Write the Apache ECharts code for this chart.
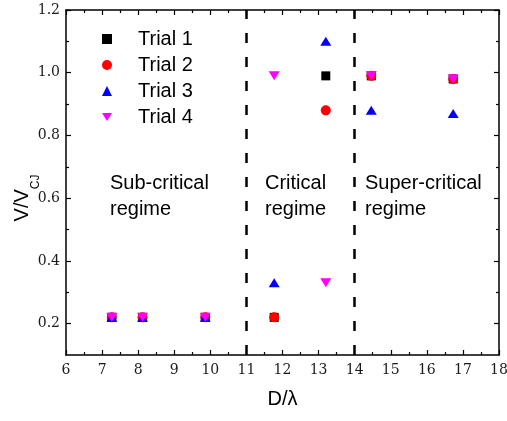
<!DOCTYPE html>
<html>
<head>
<meta charset="utf-8">
<script src="https://cdn.jsdelivr.net/npm/echarts@6/dist/echarts.min.js"></script>
<style>
html,body{margin:0;padding:0;background:#fff;}
#chart{width:507px;height:421px;}
</style>
</head>
<body>
<div id="chart"></div>
<script>
// ---- data ----
const xVals  = [7.27, 8.12, 9.86, 11.77, 13.2, 14.46, 16.73];
const trial1 = [0.22, 0.22, 0.22, 0.22, 0.99, 0.99, 0.98];
const trial2 = [0.22, 0.22, 0.22, 0.22, 0.88, 0.99, 0.98];
const trial3 = [0.22, 0.22, 0.22, 0.33, 1.10, 0.88, 0.87];
const trial4 = [0.22, 0.22, 0.22, 0.99, 0.33, 0.99, 0.98];
const seriesNames = ['Trial 1', 'Trial 2', 'Trial 3', 'Trial 4'];
const regimeBounds = [11, 14];
const yMajorTicks = [0.2, 0.4, 0.6, 0.8, 1.0, 1.2];
const yMinorTicks = [0.3, 0.5, 0.7, 0.9, 1.1];
const regimeLabels = [
  {lines: ['Sub-critical', 'regime'], x: 110},
  {lines: ['Critical', 'regime'], x: 265},
  {lines: ['Super-critical', 'regime'], x: 365}
];

const downTri = 'path://M0,0L10,0L5,8Z';
const pair = (ys) => xVals.map((x, i) => [x, ys[i]]);

const chart = echarts.init(document.getElementById('chart'), null, {renderer: 'canvas'});

const tickFont = {fontFamily: 'DejaVu Serif', fontSize: 14, color: '#1a1a1a'};
const blk = {color: '#000', width: 1.5};

function xAx(pos, labels) {
  return {
    type: 'value', position: pos, min: 6, max: 18, interval: 1,
    axisLine: {show: true, onZero: false, lineStyle: blk},
    axisTick: {show: true, inside: true, length: 5, lineStyle: {color: '#000', width: 1.2}},
    minorTick: {show: true, splitNumber: 2, length: 3, lineStyle: {color: '#000', width: 1.2}},
    splitLine: {show: false},
    axisLabel: Object.assign({show: labels, margin: 8}, tickFont),
  };
}
function yAx(pos, ticks, len, labels, line) {
  return {
    type: 'value', position: pos, min: 0.1, max: 1.2,
    axisLine: {show: line, onZero: false, lineStyle: blk},
    axisTick: {show: true, inside: true, length: len, customValues: ticks, lineStyle: {color: '#000', width: 1.2}},
    splitLine: {show: false},
    axisLabel: Object.assign({show: labels, margin: 6, customValues: ticks,
      formatter: v => Number(v).toFixed(1)}, tickFont),
  };
}

const xBottom = xAx('bottom', true);
xBottom.name = 'D/λ';
xBottom.nameLocation = 'middle';
xBottom.nameGap = 34;
xBottom.nameTextStyle = {fontFamily: 'Liberation Sans', fontSize: 20, color: '#000'};

const yLeft = yAx('left', yMajorTicks, 5, true, true);

const markers = [
  {symbol: 'rect', size: 9, color: '#000000'},
  {symbol: 'circle', size: 10, color: '#ff0000'},
  {symbol: 'triangle', size: [11, 9], color: '#0000ff'},
  {symbol: downTri, size: [11, 9], color: '#ff00ff'}
];
const trials = [trial1, trial2, trial3, trial4];

const series = trials.map((t, i) => ({
  name: seriesNames[i],
  type: 'scatter',
  xAxisIndex: 0, yAxisIndex: 0,
  symbol: markers[i].symbol,
  symbolSize: markers[i].size,
  itemStyle: {color: markers[i].color, opacity: 1},
  data: pair(t),
  z: 3 + i
}));
series[0].markLine = {
  silent: true, symbol: ['none', 'none'],
  label: {show: false},
  lineStyle: {color: '#000', width: 2.5, type: [10, 14]},
  data: regimeBounds.map(b => ({xAxis: b})),
  animation: false
};

const graphics = [];
regimeLabels.forEach(r => {
  r.lines.forEach((ln, k) => {
    graphics.push({
      type: 'text', left: r.x, top: 173 + k * 26,
      style: {text: ln, font: '20px "Liberation Sans"', fill: '#000'}
    });
  });
});
// y-axis title V/V_CJ (rotated)
graphics.push({
  type: 'text', x: 12, y: 198, rotation: Math.PI / 2,
  style: {
    text: '{m|V/V}{sub|CJ}',
    align: 'center', verticalAlign: 'top',
    rich: {
      m: {fontFamily: 'Liberation Sans', fontSize: 20, lineHeight: 22, fill: '#000', verticalAlign: 'top'},
      sub: {fontFamily: 'Liberation Sans', fontSize: 12, lineHeight: 12, fill: '#000', verticalAlign: 'top', padding: [18, 0, 0, 0]}
    }
  }
});

chart.setOption({
  animation: false,
  backgroundColor: '#fff',
  grid: {left: 66, right: 8, top: 10, bottom: 66, containLabel: false, outerBoundsMode: 'none'},
  xAxis: [xBottom, xAx('top', false)],
  yAxis: [yLeft, yAx('left', yMinorTicks, 3, false, false),
          yAx('right', yMajorTicks, 5, false, true), yAx('right', yMinorTicks, 3, false, false)],
  legend: {
    orient: 'vertical', left: 102, top: 29, padding: 0,
    itemWidth: 10, itemHeight: 10, itemGap: 6,
    textStyle: {fontFamily: 'Liberation Sans', fontSize: 20, color: '#000', lineHeight: 20, padding: [0, 0, 0, 21]},
    data: seriesNames
  },
  graphic: graphics,
  series: series
});
</script>
</body>
</html>
